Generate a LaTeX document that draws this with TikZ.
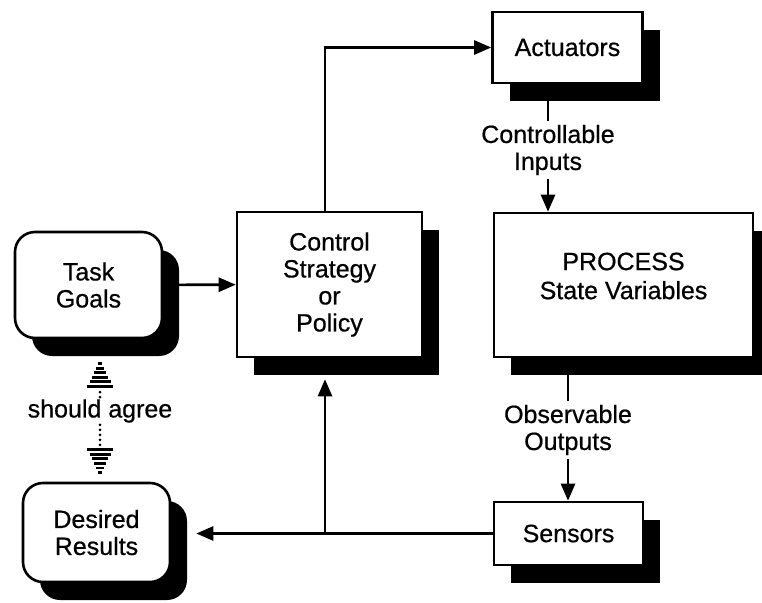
\documentclass[tikz,border=0pt]{standalone}
\usepackage{fontspec}
\setmainfont{Liberation Sans}[FakeBold=0.6]
\usetikzlibrary{arrows.meta,shadows}

\begin{document}
\begin{tikzpicture}[x=1pt,y=-1pt,font=\fontsize{25}{27}\selectfont,
  blk/.style={draw,line width=2.6pt,fill=white,align=center,inner sep=0pt,
    drop shadow={shadow xshift=17pt,shadow yshift=-18pt,fill=black,opacity=1}},
  goal/.style={blk,rounded corners=20pt},
  link/.style={line width=2.6pt,-{Triangle[length=17pt,width=14pt]}},
  agreeline/.style={line width=3pt,line cap=round,dash pattern=on 0pt off 5pt},
  agree head/.pic={\foreach \k in {1,...,6}
    \fill (-2.1*\k,4.6*\k-2.9) rectangle (2.1*\k,4.6*\k);}]
 	\useasboundingbox (0,0) rectangle (762,602);
 	\node[goal,minimum width=147pt,minimum height=106pt] (tg) at (88.5,285) {Task\\Goals};
 	\node[goal,minimum width=147pt,minimum height=99pt] (dr) at (96.5,532.5) {Desired\\Results};
 	\node[blk,minimum width=185pt,minimum height=145pt] (cs) at (329.5,284.5) {Control\\Strategy\\or\\Policy};
 	\node[blk,minimum width=150pt,minimum height=71pt] (act) at (567.5,47.5) {Actuators};
 	\node[blk,minimum width=259pt,minimum height=144pt,
 	  label={[align=center,yshift=9pt]center:PROCESS\\[2pt]State Variables}] (proc) at (623.5,285) {};
 	\node[blk,minimum width=149pt,minimum height=63pt] (sen) at (568.5,533.5) {Sensors};
 	\node[align=center] (ci) at (548,150) {Controllable\\Inputs};
 	\node[align=center] (oo) at (568,430) {Observable\\Outputs};
 	\node[inner sep=2pt] (sa) at (100,411) {should agree};
 	\coordinate (jn) at (325,534);
 	\draw[link] (tg) -- (cs);
 	\draw[link] (jn |- cs.north) |- (act.west);
 	\draw[line width=2.6pt] (ci.north |- act.south) -- (ci.north);
 	\draw[link] (ci.south) -- (ci.south |- proc.north);
 	\draw[line width=2.6pt] (oo.north |- proc.south) -- (oo.north);
 	\draw[link] (oo.south) -- (oo.south |- sen.north);
 	\draw[link,shorten >=25pt] (sen.west) -- (sen.west -| dr.east);
 	\draw[link,shorten >=21pt] (jn) -- (jn |- cs.south);
 	\coordinate (agt) at ([yshift=-21pt]sa.north |- tg.south);
 	\coordinate (agb) at ([yshift=6pt]sa.south |- dr.north);
 	\pic at (agt) {agree head};
 	\pic[rotate=180] at (agb) {agree head};
 	\draw[agreeline] (sa.north) -- ([yshift=-28pt]agt);
 	\draw[agreeline] (sa.south) -- ([yshift=28pt]agb);
\end{tikzpicture}
\end{document}
